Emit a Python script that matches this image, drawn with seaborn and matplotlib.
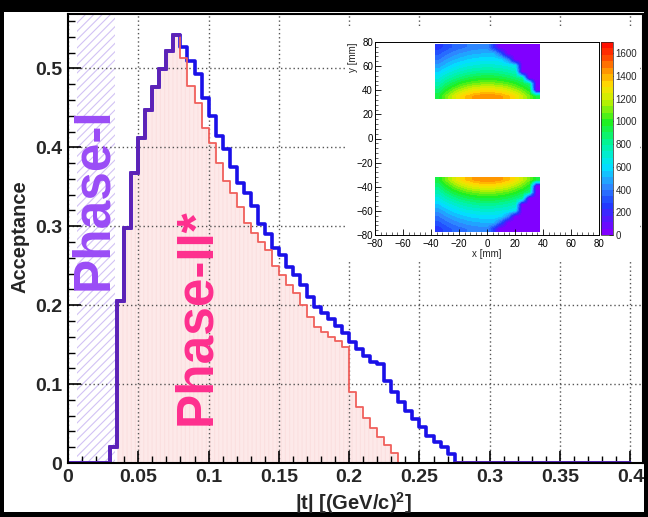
import numpy as np
import matplotlib
matplotlib.use("Agg")
import matplotlib.pyplot as plt
import seaborn as sns
from matplotlib.colors import LinearSegmentedColormap
from matplotlib.patches import Rectangle
from matplotlib.ticker import MultipleLocator

# |t| binning: 80 bins of 0.005 (GeV/c)^2
bin_width = 0.005
n_bins = 80
t_range = (0.0, 0.4)

# Acceptance per |t| bin, Phase-I (full detector)
acc_phase1 = [
    0, 0, 0, 0, 0, 0, 0.020, 0.205, 0.298, 0.367,
    0.412, 0.447, 0.476, 0.499, 0.522, 0.542, 0.527, 0.510, 0.493, 0.462,
    0.440, 0.415, 0.398, 0.375, 0.355, 0.342, 0.326, 0.303, 0.290, 0.273,
    0.263, 0.248, 0.238, 0.225, 0.210, 0.198, 0.190, 0.183, 0.174, 0.165,
    0.153, 0.145, 0.135, 0.128, 0.126, 0.104, 0.090, 0.077, 0.066, 0.056,
    0.045, 0.034, 0.026, 0.020, 0.012, 0, 0, 0, 0, 0,
    0, 0, 0, 0, 0, 0, 0, 0, 0, 0,
    0, 0, 0, 0, 0, 0, 0, 0, 0, 0,
]

# Acceptance per |t| bin, Phase-II*
acc_phase2 = [
    0, 0, 0, 0, 0, 0, 0.020, 0.205, 0.298, 0.367,
    0.412, 0.447, 0.476, 0.499, 0.522, 0.542, 0.513, 0.478, 0.456, 0.424,
    0.405, 0.380, 0.358, 0.342, 0.324, 0.304, 0.291, 0.280, 0.270, 0.250,
    0.238, 0.226, 0.215, 0.200, 0.185, 0.172, 0.166, 0.160, 0.155, 0.147,
    0.090, 0.071, 0.057, 0.044, 0.033, 0.023, 0.013, 0, 0, 0,
    0, 0, 0, 0, 0, 0, 0, 0, 0, 0,
    0, 0, 0, 0, 0, 0, 0, 0, 0, 0,
    0, 0, 0, 0, 0, 0, 0, 0, 0, 0,
]

# Phase-I |t| band
phase1_band = (0.0065, 0.0335)
phase2_fill_start = 0.035

x_ticks = [0, 0.05, 0.1, 0.15, 0.2, 0.25, 0.3, 0.35, 0.4]
x_tick_labels = ["0", "0.05", "0.1", "0.15", "0.2", "0.25", "0.3", "0.35", "0.4"]
y_ticks = [0, 0.1, 0.2, 0.3, 0.4, 0.5]
y_tick_labels = ["0", "0.1", "0.2", "0.3", "0.4", "0.5"]

# Hit map on the detector plane: counts at 5 mm cell centres
# (x = -35 ... 35 mm, y = 35 ... 75 mm for the upper block)
hit_extent_top = (-37.5, 37.5, 32.5, 77.5)
hit_extent_bottom = (-37.5, 37.5, -77.5, -32.5)

# rows ordered by increasing y
hits_top = [
    [950, 1090, 1205, 1300, 1375, 1425, 1460, 1470, 1460, 1425, 1375, 1300, 1205, 1090, 950],
    [860, 975, 1075, 1155, 1220, 1265, 1290, 1300, 1290, 1265, 1220, 1155, 1075, 975, 0],
    [760, 855, 935, 1005, 1055, 1090, 1110, 1120, 1110, 1090, 1055, 1005, 935, 855, 0],
    [660, 740, 805, 860, 905, 935, 955, 960, 955, 935, 905, 860, 805, 0, 0],
    [560, 630, 685, 735, 770, 800, 815, 820, 815, 800, 770, 735, 0, 0, 0],
    [470, 530, 585, 625, 660, 680, 695, 700, 695, 680, 660, 625, 0, 0, 0],
    [390, 445, 495, 530, 560, 585, 595, 600, 595, 585, 400, 0, 0, 0, 0],
    [320, 370, 415, 450, 475, 495, 505, 510, 505, 300, 0, 0, 0, 0, 0],
    [250, 300, 340, 370, 395, 415, 425, 430, 230, 0, 0, 0, 0, 0, 0],
]
hits_bottom = [
    [250, 300, 340, 370, 395, 415, 425, 430, 230, 0, 0, 0, 0, 0, 0],
    [320, 370, 415, 450, 475, 495, 505, 510, 505, 300, 0, 0, 0, 0, 0],
    [390, 445, 495, 530, 560, 585, 595, 600, 595, 585, 400, 0, 0, 0, 0],
    [470, 530, 585, 625, 660, 680, 695, 700, 695, 680, 660, 625, 0, 0, 0],
    [560, 630, 685, 735, 770, 800, 815, 820, 815, 800, 770, 735, 0, 0, 0],
    [660, 740, 805, 860, 905, 935, 955, 960, 955, 935, 905, 860, 805, 0, 0],
    [760, 855, 935, 1005, 1055, 1090, 1110, 1120, 1110, 1090, 1055, 1005, 935, 855, 0],
    [860, 975, 1075, 1155, 1220, 1265, 1290, 1300, 1290, 1265, 1220, 1155, 1075, 975, 0],
    [950, 1090, 1205, 1300, 1375, 1425, 1460, 1470, 1460, 1425, 1375, 1300, 1205, 1090, 950],
]
hit_ticks = [-80, -60, -40, -20, 0, 20, 40, 60, 80]
palette_ticks = [0, 200, 400, 600, 800, 1000, 1200, 1400, 1600]
palette_max = 1700

# ---------------------------------------------------------------- style
sns.set_theme(style="white")
plt.rcParams["font.family"] = ["Liberation Sans", "DejaVu Sans"]
plt.rcParams["hatch.linewidth"] = 0.8
plt.rcParams["mathtext.fontset"] = "custom"
plt.rcParams["mathtext.bf"] = "Liberation Sans:bold"
plt.rcParams["mathtext.rm"] = "Liberation Sans"

W, H = 648, 517
fig = plt.figure(figsize=(W / 100, H / 100), dpi=100, facecolor="black")


def fbox(x0, y0, x1, y1):
    """pixel box (top-left origin) -> figure fraction [l, b, w, h]"""
    return [x0 / W, 1 - y1 / H, (x1 - x0) / W, (y1 - y0) / H]


# white canvas inside the black frame
l, b, w, h = fbox(4, 12, 644, 512)
fig.patches.append(Rectangle((l, b), w, h, transform=fig.transFigure,
                             facecolor="white", edgecolor="none", zorder=-10))

ax = fig.add_axes(fbox(68, 14, 643, 463))
ax.set_facecolor("none")

edges = np.linspace(t_range[0], t_range[1], n_bins + 1)
centers = edges[:-1] + bin_width / 2
p1 = np.array(acc_phase1)
p2 = np.array(acc_phase2)
hist_kw = dict(bins=n_bins, binrange=t_range, element="step", ax=ax)

# Phase-I band
ax.axvspan(*phase1_band, facecolor="white", edgecolor="#d2c2f5",
           hatch="////", linewidth=0, zorder=0.6)

# Phase-II* filled area
p2_fill = np.where(centers > phase2_fill_start, p2, 0.0)
sns.histplot(x=centers, weights=p2_fill, fill=True, color="#fde9e9",
             alpha=1.0, linewidth=0, zorder=0.7, **hist_kw)
ax.fill_between(edges[:-1], 0, p2_fill, step="post",
                facecolor="none", edgecolor="#fbe0e0", hatch="||||",
                linewidth=0, zorder=0.8)

# histogram outlines
sns.histplot(x=centers, weights=p1, fill=False, color="#1a10e8",
             linewidth=2.6, zorder=3, **hist_kw)
sns.histplot(x=centers, weights=p2, fill=False, color="#f0605c",
             linewidth=1.3, zorder=3.2, **hist_kw)

# where both selections agree the outline appears in purple
for seg_start, seg_end in [(0, 16), (55, n_bins)]:
    sel = np.arange(seg_start, seg_end)
    xs = np.repeat(edges[seg_start:seg_end + 1], 2)[1:-1]
    ys = np.repeat(p1[sel], 2)
    ax.plot(xs, ys, color="#5e22b4", linewidth=2.6, zorder=3.4,
            solid_joinstyle="miter")

ax.set_xlim(0, 0.409)
ax.set_ylim(0, 0.569)
ax.set_xticks(x_ticks)
ax.set_xticklabels(x_tick_labels)
ax.set_yticks(y_ticks)
ax.set_yticklabels(y_tick_labels)
ax.xaxis.set_minor_locator(MultipleLocator(0.01))
ax.yaxis.set_minor_locator(MultipleLocator(0.02))
ax.tick_params(axis="both", which="major", direction="in", length=9,
               width=1.2, color="black", labelsize=14, pad=4,
               bottom=True, left=True, top=False, right=False)
ax.tick_params(axis="both", which="minor", direction="in", length=5,
               width=1.0, color="black", bottom=True, left=True,
               top=False, right=False)
for lab in ax.get_xticklabels() + ax.get_yticklabels():
    lab.set_fontweight("bold")
ax.grid(True, which="major", linestyle=(0, (1, 2)), color="#555555",
        linewidth=1.0)
ax.set_axisbelow(False)
for sp in ax.spines.values():
    sp.set_visible(True)
    sp.set_color("black")
    sp.set_linewidth(1.5)
    sp.set_zorder(4)
ax.set_xlabel("")
ax.set_ylabel("")

fig.text(20 / W, 1 - 237 / H, "Acceptance", rotation=90, ha="center",
         va="center", fontsize=14.5, fontweight="bold")
fig.text(353 / W, 1 - 503 / H, r"|t| [(GeV/c)$^\mathbf{2}$]", ha="center",
         va="center", fontsize=14.5, fontweight="bold")

ax.text(0.0185, 0.335, "Phase-I", rotation=90, ha="center", va="center",
        fontsize=37, fontweight="bold", color="#9a4cf6", zorder=5)
ax.text(0.0915, 0.186, "Phase-II*", rotation=90, ha="center", va="center",
        fontsize=37, fontweight="bold", color="#ff2f8e", zorder=5)

# ---------------------------------------------------------------- inset
l, b, w, h = fbox(347, 28, 640, 262)
fig.patches.append(Rectangle((l, b), w, h, transform=fig.transFigure,
                             facecolor="white", edgecolor="none", zorder=1))

palette_stops = [
    (0 / 1700, "#8000ff"), (100 / 1700, "#5a14ff"), (250 / 1700, "#1e3cff"),
    (420 / 1700, "#2e8cff"), (600 / 1700, "#00e4ff"), (800 / 1700, "#00f5a0"),
    (1000 / 1700, "#20f020"), (1200 / 1700, "#c8f000"), (1330 / 1700, "#ffe000"),
    (1450 / 1700, "#ffa000"), (1600 / 1700, "#ff4000"), (1.0, "#ff1000"),
]
palette = LinearSegmentedColormap.from_list("root_rainbow", palette_stops, N=30)

axi = fig.add_axes(fbox(375, 42, 599, 235), zorder=2)
axi.set_facecolor("white")
img_kw = dict(cmap=palette, vmin=0, vmax=palette_max, origin="lower",
              interpolation="bilinear", interpolation_stage="data",
              aspect="auto")
mesh = axi.imshow(np.array(hits_top), extent=hit_extent_top, **img_kw)
axi.imshow(np.array(hits_bottom), extent=hit_extent_bottom, **img_kw)
axi.set_xlim(-80, 80)
axi.set_ylim(-80, 80)
axi.set_xticks(hit_ticks)
axi.set_yticks(hit_ticks)
axi.xaxis.set_minor_locator(MultipleLocator(4))
axi.yaxis.set_minor_locator(MultipleLocator(4))
axi.tick_params(which="major", direction="in", length=4, width=0.6,
                labelsize=7, colors="black",
                bottom=True, left=True, top=False, right=False)
axi.tick_params(axis="x", which="major", pad=3)
axi.tick_params(axis="y", which="major", pad=1.5)
axi.tick_params(which="minor", direction="in", length=2, width=0.5,
                bottom=True, left=True, top=False, right=False)
axi.grid(False)
for sp in axi.spines.values():
    sp.set_visible(True)
    sp.set_color("black")
    sp.set_linewidth(0.7)
axi.set_xlabel("x [mm]", fontsize=7, labelpad=0)
axi.set_ylabel("y [mm]", fontsize=7, labelpad=0)
axi.yaxis.set_label_coords(-0.075, 1.0)
axi.yaxis.label.set_horizontalalignment("right")

cax = fig.add_axes(fbox(601, 42, 613, 235), zorder=2)
cb = fig.colorbar(mesh, cax=cax, ticks=palette_ticks)
cb.outline.set_linewidth(0.5)
cax.tick_params(labelsize=7, length=3, width=0.6, direction="in", pad=2)

fig.savefig("out.png", dpi=100, facecolor="black")
